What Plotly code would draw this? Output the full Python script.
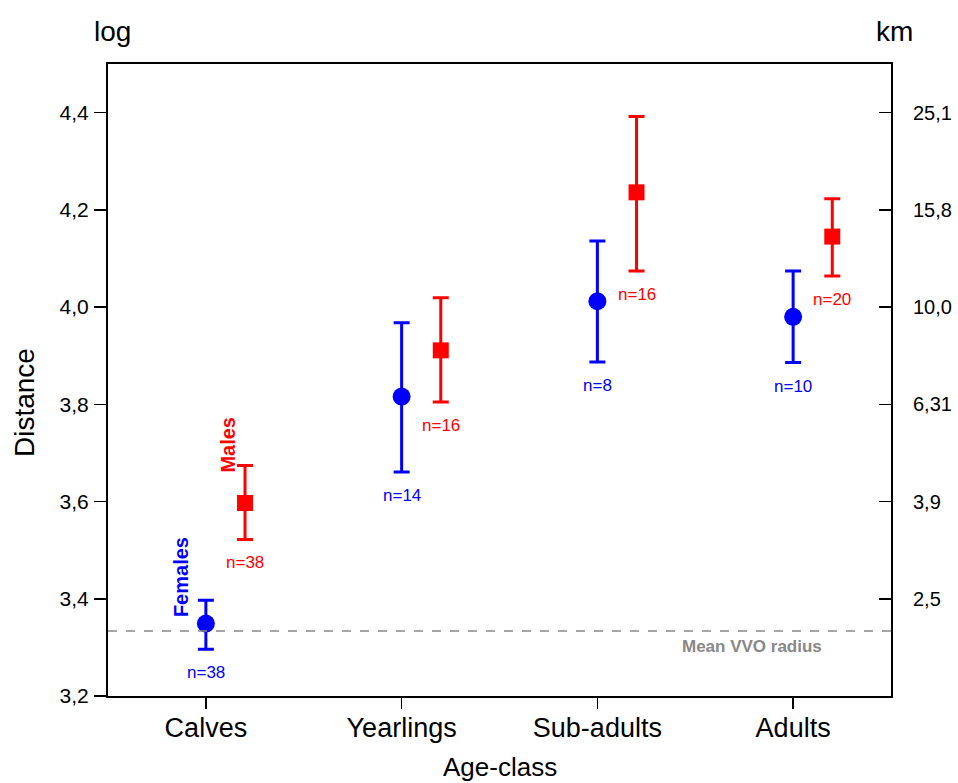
import plotly.graph_objects as go

categories = ["Calves", "Yearlings", "Sub-adults", "Adults"]
female_mean = [3.349, 3.816, 4.012, 3.980]
female_upper = [3.397, 3.968, 4.136, 4.074]
female_lower = [3.296, 3.661, 3.887, 3.886]
female_n = [38, 14, 8, 10]
male_mean = [3.597, 3.911, 4.236, 4.145]
male_upper = [3.674, 4.019, 4.392, 4.223]
male_lower = [3.522, 3.805, 4.074, 4.064]
male_n = [38, 16, 16, 20]
vvo_radius = 3.3335
left_ticks = [3.2, 3.4, 3.6, 3.8, 4.0, 4.2, 4.4]
left_ticktext = ["3,2", "3,4", "3,6", "3,8", "4,0", "4,2", "4,4"]
km_ticks = [3.4, 3.6, 3.8, 4.0, 4.2, 4.4]
km_ticktext = ["2,5", "3,9", "6,31", "10,0", "15,8", "25,1"]

BLUE = "#0000FF"
RED = "#FF0000"
FONT = "Liberation Sans, Arial, sans-serif"
male_offset = 0.2

xf = list(range(len(categories)))
xm = [i + male_offset for i in xf]

fig = go.Figure()
fig.add_trace(go.Scatter(
    x=xf, y=female_mean, mode="markers",
    marker=dict(symbol="circle", size=18, color=BLUE),
    error_y=dict(type="data", symmetric=False,
                 array=[u - m for u, m in zip(female_upper, female_mean)],
                 arrayminus=[m - l for m, l in zip(female_mean, female_lower)],
                 color=BLUE, thickness=3, width=8),
    showlegend=False))
fig.add_trace(go.Scatter(
    x=xm, y=male_mean, mode="markers",
    marker=dict(symbol="square", size=16, color=RED),
    error_y=dict(type="data", symmetric=False,
                 array=[u - m for u, m in zip(male_upper, male_mean)],
                 arrayminus=[m - l for m, l in zip(male_mean, male_lower)],
                 color=RED, thickness=3, width=8),
    showlegend=False))
# invisible trace for right axis
fig.add_trace(go.Scatter(x=[0], y=[3.4], yaxis="y2", mode="markers",
                         marker=dict(opacity=0), showlegend=False, hoverinfo="skip"))

fig.add_shape(type="line", xref="paper", x0=0, x1=1, yref="y", y0=vvo_radius, y1=vvo_radius,
              line=dict(color="#888888", width=1.5, dash="dash"))

ann = []
for i in range(len(categories)):
    ann.append(dict(x=xf[i], y=female_lower[i], text=f"n={female_n[i]}", showarrow=False,
                    yanchor="top", yshift=-12, font=dict(color=BLUE, size=17, family=FONT)))
    ann.append(dict(x=xm[i], y=male_lower[i], text=f"n={male_n[i]}", showarrow=False,
                    yanchor="top", yshift=-12, font=dict(color=RED, size=17, family=FONT)))
ann.append(dict(x=xf[0], y=female_upper[0], text="<b>Females</b>", textangle=-90, showarrow=False,
                xanchor="center", yanchor="bottom", xshift=-25, yshift=-19,
                font=dict(color=BLUE, size=20, family=FONT)))
ann.append(dict(x=xm[0], y=male_upper[0], text="<b>Males</b>", textangle=-90, showarrow=False,
                xanchor="center", yanchor="bottom", xshift=-17, yshift=-9,
                font=dict(color=RED, size=20, family=FONT)))
ann.append(dict(x=xf[3] - 0.21, y=vvo_radius, text="<b>Mean VVO radius</b>", showarrow=False,
                xanchor="center", yanchor="top", yshift=-4,
                font=dict(color="#888888", size=17, family=FONT)))
ann.append(dict(xref="paper", yref="paper", x=0, y=1, xshift=4, yshift=33, text="log", showarrow=False,
                xanchor="center", yanchor="middle", font=dict(color="black", size=28, family=FONT)))
ann.append(dict(xref="paper", yref="paper", x=1, y=1, xshift=3, yshift=33, text="km", showarrow=False,
                xanchor="center", yanchor="middle", font=dict(color="black", size=28, family=FONT)))
ann.append(dict(xref="paper", yref="paper", x=0, y=0.4636, xshift=-84, text="Distance", textangle=-90,
                showarrow=False, xanchor="center", yanchor="middle",
                font=dict(color="black", size=28, family=FONT)))
ann.append(dict(xref="paper", yref="paper", x=0.5, y=0, yshift=-71, text="Age-class",
                showarrow=False, xanchor="center", yanchor="middle",
                font=dict(color="black", size=26, family=FONT)))

fig.update_layout(
    width=958, height=783,
    margin=dict(l=108, r=67, t=64, b=87, autoexpand=False),
    paper_bgcolor="white", plot_bgcolor="white",
    font=dict(family=FONT, color="black"),
    annotations=ann,
    hovermode=False,
    xaxis=dict(range=[-0.5, 3.5], tickvals=xf, ticktext=categories, automargin=False,
               showgrid=False, zeroline=False, showline=True, linecolor="black", linewidth=2,
               mirror=True, ticks="outside", ticklen=11, tickwidth=1.5, tickcolor="black",
               ticklabelstandoff=-4, tickfont=dict(size=27)),
    yaxis=dict(range=[3.2, 4.5], tickvals=left_ticks, ticktext=left_ticktext, automargin=False,
               showgrid=False, zeroline=False, showline=True, linecolor="black", linewidth=2,
               mirror=True, ticks="outside", ticklen=12, tickwidth=1.5, tickcolor="black",
               ticklabelstandoff=1, tickfont=dict(size=21)),
    yaxis2=dict(range=[3.2, 4.5], overlaying="y", side="right", tickvals=km_ticks, ticktext=km_ticktext,
                showgrid=False, zeroline=False, showline=False, automargin=False,
                ticks="inside", ticklen=12, tickwidth=1.5, tickcolor="black",
                tickfont=dict(size=20), ticklabelstandoff=21),
)

fig.write_html("out.html", config={"displayModeBar": False, "staticPlot": True},
               post_script="document.body.style.margin='0';document.body.style.overflow='hidden';")
